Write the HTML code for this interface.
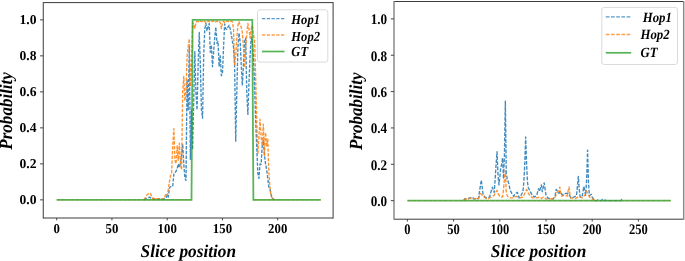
<!DOCTYPE html>
<html><head><meta charset="utf-8"><style>html,body{margin:0;padding:0;background:#fff;overflow:hidden}svg{display:block;will-change:transform}</style></head><body>
<svg width="685" height="261" viewBox="0 0 685 261">
<style>text{text-rendering:geometricPrecision}.tk{font-family:"Liberation Serif",serif;font-weight:bold;font-size:13.6px;fill:#000}.lg{font-family:"Liberation Serif",serif;font-weight:bold;font-style:italic;fill:#000}.al{font-family:"Liberation Serif",serif;font-weight:bold;font-style:italic;font-size:17.3px;fill:#000}</style>
<rect width="685" height="261" fill="#fff"/>
<g>
<polyline points="144.00,199.87 145.10,198.97 146.20,198.52 147.31,198.07 148.42,197.62 149.52,197.17 150.62,197.80 151.73,198.43 152.84,198.97 153.94,198.97 155.05,198.97 156.15,198.97 157.25,198.97 158.36,198.97 159.47,198.97 160.57,198.97 161.68,198.97 162.78,198.97 163.88,198.97 164.99,198.97 166.09,198.07 167.20,194.83 168.31,197.17 169.41,188.17 170.51,186.91 171.62,186.37 172.72,186.37 173.83,174.13 174.94,172.87 176.04,171.07 177.14,168.91 178.25,163.87 179.36,167.47 180.46,163.87 181.56,154.87 182.67,144.07 183.78,163.87 184.88,178.27 185.99,180.43 187.09,79.27 188.19,109.87 189.30,46.87 190.40,159.37 191.51,109.87 192.62,149.47 193.72,100.87 194.82,51.55 195.93,91.87 197.04,109.87 198.14,64.87 199.25,32.47 200.35,64.87 201.45,109.87 202.56,118.15 203.67,55.87 204.77,28.87 205.88,23.47 206.98,30.67 208.08,27.07 209.19,23.47 210.30,52.27 211.40,45.07 212.50,66.67 213.61,52.27 214.71,37.87 215.82,27.07 216.93,43.27 218.03,41.47 219.13,66.67 220.24,55.87 221.35,75.67 222.45,73.87 223.56,46.87 224.66,24.01 225.76,28.87 226.87,29.41 227.98,27.07 229.08,25.27 230.19,28.87 231.29,34.27 232.39,41.47 233.50,46.87 234.61,64.87 235.71,141.19 236.81,91.87 237.92,46.87 239.02,33.19 240.13,41.47 241.24,64.87 242.34,85.57 243.44,64.87 244.55,41.47 245.65,37.87 246.76,91.87 247.87,114.37 248.97,82.87 250.07,55.87 251.18,36.97 252.29,41.47 253.39,55.87 254.50,82.87 255.60,118.87 256.70,145.87 257.81,172.87 258.92,178.27 260.02,163.87 261.12,164.23 262.23,145.87 263.33,140.47 264.44,154.87 265.55,163.87 266.65,169.81 267.75,178.27 268.86,187.27 269.96,189.07 271.07,194.47 272.18,198.07 273.28,198.97 274.38,199.87" fill="none" stroke="#1f77b4" stroke-width="1.35" stroke-opacity="0.85" stroke-dasharray="3.3 1.45" stroke-linejoin="round"/>
<polyline points="144.00,199.87 145.10,198.07 146.20,196.27 147.31,194.47 148.42,193.84 149.52,193.21 150.62,193.57 151.73,197.17 152.84,198.43 153.94,198.48 155.05,198.54 156.15,198.59 157.25,198.65 158.36,198.70 159.47,198.75 160.57,198.81 161.68,198.86 162.78,198.92 163.88,198.97 164.99,196.27 166.09,193.57 167.20,195.37 168.31,189.07 169.41,181.87 170.51,175.75 171.62,172.87 172.72,145.87 173.83,128.77 174.94,160.27 176.04,163.87 177.14,145.87 178.25,160.27 179.36,143.17 180.46,163.87 181.56,169.81 182.67,91.87 183.78,76.39 184.88,100.87 185.99,91.87 187.09,55.87 188.19,46.87 189.30,38.77 190.40,86.47 191.51,64.87 192.62,22.57 193.72,25.27 194.82,28.33 195.93,22.57 197.04,21.31 198.14,21.67 199.25,22.39 200.35,21.13 201.45,21.67 202.56,21.31 203.67,22.03 204.77,21.13 205.88,22.57 206.98,21.13 208.08,21.67 209.19,21.13 210.30,21.67 211.40,21.13 212.50,21.67 213.61,21.13 214.71,22.39 215.82,21.67 216.93,21.13 218.03,21.67 219.13,21.13 220.24,22.57 221.35,28.51 222.45,22.57 223.56,21.13 224.66,22.57 225.76,21.67 226.87,21.13 227.98,21.67 229.08,21.13 230.19,21.67 231.29,21.13 232.39,21.67 233.50,28.87 234.61,65.59 235.71,55.87 236.81,37.87 237.92,25.27 239.02,21.67 240.13,25.27 241.24,27.07 242.34,32.47 243.44,46.87 244.55,67.57 245.65,46.87 246.76,34.27 247.87,23.47 248.97,28.87 250.07,37.87 251.18,28.87 252.29,25.27 253.39,34.27 254.50,39.67 255.60,73.87 256.70,118.87 257.81,153.61 258.92,136.87 260.02,119.23 261.12,136.87 262.23,145.87 263.33,124.27 264.44,155.41 265.55,132.55 266.65,145.87 267.75,139.21 268.86,172.87 269.96,187.27 271.07,196.27 272.18,198.07 273.28,198.97 274.38,199.87" fill="none" stroke="#ff7f0e" stroke-width="1.35" stroke-opacity="0.85" stroke-dasharray="3.3 1.45" stroke-linejoin="round"/>
<line x1="56.70" y1="199.87" x2="191.51" y2="199.87" stroke="#ff7f0e" stroke-width="1.3" stroke-opacity="0.45" stroke-dasharray="3.3 1.45"/>
<line x1="253.39" y1="199.87" x2="320.79" y2="199.87" stroke="#ff7f0e" stroke-width="1.3" stroke-opacity="0.45" stroke-dasharray="3.3 1.45"/>
<polyline points="56.70,199.87 57.80,199.87 58.91,199.87 60.02,199.87 61.12,199.87 62.23,199.87 63.33,199.87 64.44,199.87 65.54,199.87 66.65,199.87 67.75,199.87 68.86,199.87 69.96,199.87 71.06,199.87 72.17,199.87 73.28,199.87 74.38,199.87 75.48,199.87 76.59,199.87 77.70,199.87 78.80,199.87 79.91,199.87 81.01,199.87 82.12,199.87 83.22,199.87 84.33,199.87 85.43,199.87 86.53,199.87 87.64,199.87 88.75,199.87 89.85,199.87 90.96,199.87 92.06,199.87 93.16,199.87 94.27,199.87 95.38,199.87 96.48,199.87 97.59,199.87 98.69,199.87 99.80,199.87 100.90,199.87 102.00,199.87 103.11,199.87 104.22,199.87 105.32,199.87 106.43,199.87 107.53,199.87 108.64,199.87 109.74,199.87 110.84,199.87 111.95,199.87 113.06,199.87 114.16,199.87 115.27,199.87 116.37,199.87 117.47,199.87 118.58,199.87 119.69,199.87 120.79,199.87 121.89,199.87 123.00,199.87 124.11,199.87 125.21,199.87 126.31,199.87 127.42,199.87 128.53,199.87 129.63,199.87 130.74,199.87 131.84,199.87 132.94,199.87 134.05,199.87 135.16,199.87 136.26,199.87 137.37,199.87 138.47,199.87 139.57,199.87 140.68,199.87 141.78,199.87 142.89,199.87 144.00,199.87 145.10,199.87 146.20,199.87 147.31,199.87 148.42,199.87 149.52,199.87 150.62,199.87 151.73,199.87 152.84,199.87 153.94,199.87 155.05,199.87 156.15,199.87 157.25,199.87 158.36,199.87 159.47,199.87 160.57,199.87 161.68,199.87 162.78,199.87 163.88,199.87 164.99,199.87 166.09,199.87 167.20,199.87 168.31,199.87 169.41,199.87 170.51,199.87 171.62,199.87 172.72,199.87 173.83,199.87 174.94,199.87 176.04,199.87 177.14,199.87 178.25,199.87 179.36,199.87 180.46,199.87 181.56,199.87 182.67,199.87 183.78,199.87 184.88,199.87 185.99,199.87 187.09,199.87 188.19,199.87 189.30,199.87 190.40,199.87 191.51,199.87 192.62,19.87 193.72,19.87 194.82,19.87 195.93,19.87 197.04,19.87 198.14,19.87 199.25,19.87 200.35,19.87 201.45,19.87 202.56,19.87 203.67,19.87 204.77,19.87 205.88,19.87 206.98,19.87 208.08,19.87 209.19,19.87 210.30,19.87 211.40,19.87 212.50,19.87 213.61,19.87 214.71,19.87 215.82,19.87 216.93,19.87 218.03,19.87 219.13,19.87 220.24,19.87 221.35,19.87 222.45,19.87 223.56,19.87 224.66,19.87 225.76,19.87 226.87,19.87 227.98,19.87 229.08,19.87 230.19,19.87 231.29,19.87 232.39,19.87 233.50,19.87 234.61,19.87 235.71,19.87 236.81,19.87 237.92,19.87 239.02,19.87 240.13,19.87 241.24,19.87 242.34,19.87 243.44,19.87 244.55,19.87 245.65,19.87 246.76,19.87 247.87,19.87 248.97,19.87 250.07,19.87 251.18,19.87 252.29,19.87 253.39,199.87 254.50,199.87 255.60,199.87 256.70,199.87 257.81,199.87 258.92,199.87 260.02,199.87 261.12,199.87 262.23,199.87 263.33,199.87 264.44,199.87 265.55,199.87 266.65,199.87 267.75,199.87 268.86,199.87 269.96,199.87 271.07,199.87 272.18,199.87 273.28,199.87 274.38,199.87 275.49,199.87 276.60,199.87 277.70,199.87 278.81,199.87 279.91,199.87 281.01,199.87 282.12,199.87 283.23,199.87 284.33,199.87 285.44,199.87 286.54,199.87 287.64,199.87 288.75,199.87 289.86,199.87 290.96,199.87 292.06,199.87 293.17,199.87 294.27,199.87 295.38,199.87 296.49,199.87 297.59,199.87 298.69,199.87 299.80,199.87 300.90,199.87 302.01,199.87 303.12,199.87 304.22,199.87 305.32,199.87 306.43,199.87 307.54,199.87 308.64,199.87 309.75,199.87 310.85,199.87 311.95,199.87 313.06,199.87 314.16,199.87 315.27,199.87 316.38,199.87 317.48,199.87 318.58,199.87 319.69,199.87 320.79,199.87" fill="none" stroke="#2ca02c" stroke-width="1.8" stroke-opacity="0.78" stroke-linejoin="miter"/>

<line x1="43.25" y1="2.6" x2="333.1" y2="2.6" stroke="#3a3a3a" stroke-width="1.0"/>
<line x1="43.25" y1="218.0" x2="333.1" y2="218.0" stroke="#3a3a3a" stroke-width="1.0"/>
<line x1="43.25" y1="2.1" x2="43.25" y2="218.5" stroke="#3a3a3a" stroke-width="1.0"/>
<line x1="333.1" y1="2.1" x2="333.1" y2="218.5" stroke="#3a3a3a" stroke-width="1.0"/>
<line x1="40.05" y1="199.87" x2="43.25" y2="199.87" stroke="#444" stroke-width="1"/>
<text transform="translate(36.45,203.57) scale(1.0,1.0)" text-anchor="end" class="tk">0.0</text>
<line x1="40.05" y1="163.87" x2="43.25" y2="163.87" stroke="#444" stroke-width="1"/>
<text transform="translate(36.45,167.57) scale(1.0,1.0)" text-anchor="end" class="tk">0.2</text>
<line x1="40.05" y1="127.87" x2="43.25" y2="127.87" stroke="#444" stroke-width="1"/>
<text transform="translate(36.45,131.57) scale(1.0,1.0)" text-anchor="end" class="tk">0.4</text>
<line x1="40.05" y1="91.87" x2="43.25" y2="91.87" stroke="#444" stroke-width="1"/>
<text transform="translate(36.45,95.57) scale(1.0,1.0)" text-anchor="end" class="tk">0.6</text>
<line x1="40.05" y1="55.87" x2="43.25" y2="55.87" stroke="#444" stroke-width="1"/>
<text transform="translate(36.45,59.57) scale(1.0,1.0)" text-anchor="end" class="tk">0.8</text>
<line x1="40.05" y1="19.87" x2="43.25" y2="19.87" stroke="#444" stroke-width="1"/>
<text transform="translate(36.45,23.57) scale(1.0,1.0)" text-anchor="end" class="tk">1.0</text>
<line x1="56.70" y1="218.0" x2="56.70" y2="220.3" stroke="#444" stroke-width="1"/>
<text transform="translate(56.70,233.40) scale(0.94,1.0)" text-anchor="middle" class="tk">0</text>
<line x1="111.95" y1="218.0" x2="111.95" y2="220.3" stroke="#444" stroke-width="1"/>
<text transform="translate(111.95,233.40) scale(0.94,1.0)" text-anchor="middle" class="tk">50</text>
<line x1="167.20" y1="218.0" x2="167.20" y2="220.3" stroke="#444" stroke-width="1"/>
<text transform="translate(167.20,233.40) scale(0.94,1.0)" text-anchor="middle" class="tk">100</text>
<line x1="222.45" y1="218.0" x2="222.45" y2="220.3" stroke="#444" stroke-width="1"/>
<text transform="translate(222.45,233.40) scale(0.94,1.0)" text-anchor="middle" class="tk">150</text>
<line x1="277.70" y1="218.0" x2="277.70" y2="220.3" stroke="#444" stroke-width="1"/>
<text transform="translate(277.70,233.40) scale(0.94,1.0)" text-anchor="middle" class="tk">200</text>

<rect x="257.5" y="9.8" width="70.30000000000001" height="52.3" rx="2.5" ry="2.5" fill="#fff" fill-opacity="0.8" stroke="#d6d6d6" stroke-width="0.9"/>
<line x1="262" y1="18.6" x2="284.5" y2="18.6" stroke="#1f77b4" stroke-width="1.3" stroke-opacity="0.75" stroke-dasharray="3.3 1.45"/>
<text transform="translate(291.3,24.2) scale(1,1.1)" class="lg" style="font-size:12.6px">Hop1</text>
<line x1="262" y1="35.0" x2="284.5" y2="35.0" stroke="#ff7f0e" stroke-width="1.3" stroke-opacity="0.75" stroke-dasharray="3.3 1.45"/>
<text transform="translate(291.3,40.6) scale(1,1.1)" class="lg" style="font-size:12.6px">Hop2</text>
<line x1="262" y1="51.5" x2="284.5" y2="51.5" stroke="#2ca02c" stroke-width="1.7" stroke-opacity="0.8"/>
<text transform="translate(291.3,55.6) scale(1,1.1)" class="lg" style="font-size:12.6px">GT</text>

<text transform="translate(188.3,257.4) scale(1,1.04)" text-anchor="middle" class="al">Slice position</text>
<text transform="translate(12.0,110.9) rotate(-90) scale(0.985,1.07)" text-anchor="middle" class="al">Probability</text>
</g>
<g>
<polyline points="463.76,200.67 464.69,198.85 465.61,198.76 466.54,198.67 467.46,198.58 468.38,198.49 469.31,198.12 470.23,197.76 471.16,197.40 472.08,197.03 473.00,197.94 473.93,198.85 474.85,198.78 475.78,198.71 476.70,198.63 477.62,198.56 478.55,198.49 479.47,191.58 480.40,185.76 481.32,179.94 482.24,187.94 483.17,194.85 484.09,195.94 485.02,197.03 485.94,197.49 486.86,197.94 487.79,197.64 488.71,197.34 489.64,197.03 490.56,193.40 491.48,190.31 492.41,187.22 493.33,189.85 494.26,192.49 495.18,178.40 496.10,164.31 497.03,151.77 497.95,173.40 498.88,184.85 499.80,177.22 500.72,167.95 501.65,164.31 502.57,157.95 503.50,178.85 504.42,155.22 505.34,101.23 506.27,173.40 507.19,178.85 508.12,181.58 509.04,184.31 509.96,189.76 510.89,191.58 511.81,193.40 512.74,194.85 513.66,196.31 514.58,194.85 515.51,193.40 516.43,192.85 517.36,192.31 518.28,195.22 519.20,197.94 520.13,196.58 521.05,195.22 521.98,193.49 522.90,191.76 523.82,182.49 524.75,164.31 525.67,137.04 526.60,164.31 527.52,182.49 528.44,187.94 529.37,189.76 530.29,191.58 531.22,193.40 532.14,195.22 533.06,195.82 533.99,196.43 534.91,197.03 535.84,196.12 536.76,195.22 537.68,191.58 538.61,188.67 539.53,191.58 540.46,188.22 541.38,184.85 542.30,191.76 543.23,187.31 544.15,182.85 545.08,189.03 546.00,195.22 546.92,196.58 547.85,197.94 548.77,198.25 549.70,198.55 550.62,198.85 551.54,198.85 552.47,198.85 553.39,198.85 554.32,197.03 555.24,195.22 556.16,189.40 557.09,190.73 558.01,192.06 558.94,193.40 559.86,191.58 560.78,192.79 561.71,194.00 562.63,195.22 563.56,194.61 564.48,194.00 565.40,193.40 566.33,193.40 567.25,193.40 568.18,193.40 569.10,194.91 570.02,196.43 570.95,197.94 571.87,197.64 572.80,197.34 573.72,197.03 574.64,196.61 575.57,196.19 576.49,195.76 577.42,186.13 578.34,176.49 579.26,189.76 580.19,197.03 581.11,197.03 582.04,197.03 582.96,191.76 583.88,186.49 584.81,190.85 585.73,195.22 586.66,178.85 587.58,150.13 588.50,182.49 589.43,195.76 590.35,195.03 591.28,194.31 592.20,197.03 593.12,198.40 594.05,199.76 594.97,200.67 595.90,200.67 596.82,200.67 597.74,199.94 598.67,200.67 599.59,200.67 600.52,200.67 601.44,200.67 602.36,199.40 603.29,200.67 604.21,200.67 605.14,200.12 606.06,200.67 606.98,200.67 607.91,200.67 608.83,200.67 609.76,200.67 610.68,200.67 611.60,200.67 612.53,200.67 613.45,200.67 614.38,200.67 615.30,200.67 616.22,200.67 617.15,200.67 618.07,200.67 619.00,200.67 619.92,200.67 620.84,200.67 621.77,199.40 622.69,200.67" fill="none" stroke="#1f77b4" stroke-width="1.35" stroke-opacity="0.85" stroke-dasharray="3.7 1.5" stroke-linejoin="round"/>
<polyline points="463.76,200.67 464.69,199.22 465.61,199.12 466.54,199.03 467.46,198.94 468.38,198.85 469.31,198.40 470.23,197.94 471.16,198.40 472.08,198.85 473.00,198.80 473.93,198.75 474.85,198.70 475.78,198.64 476.70,198.59 477.62,198.54 478.55,198.49 479.47,195.94 480.40,193.40 481.32,194.31 482.24,195.22 483.17,196.31 484.09,197.03 485.02,197.76 485.94,198.49 486.86,198.49 487.79,198.49 488.71,198.49 489.64,198.00 490.56,197.52 491.48,197.03 492.41,196.43 493.33,195.82 494.26,195.22 495.18,193.40 496.10,191.58 497.03,190.31 497.95,193.40 498.88,194.85 499.80,196.31 500.72,196.55 501.65,196.79 502.57,197.03 503.50,189.76 504.42,178.85 505.34,170.31 506.27,193.40 507.19,195.22 508.12,197.03 509.04,197.49 509.96,197.94 510.89,197.94 511.81,197.94 512.74,197.94 513.66,197.53 514.58,197.12 515.51,196.72 516.43,196.31 517.36,196.85 518.28,197.40 519.20,197.94 520.13,197.72 521.05,197.49 521.98,197.26 522.90,197.03 523.82,195.22 524.75,193.40 525.67,191.40 526.60,189.40 527.52,191.40 528.44,193.40 529.37,194.85 530.29,196.31 531.22,196.85 532.14,197.40 533.06,197.94 533.99,197.94 534.91,197.94 535.84,197.94 536.76,197.94 537.68,197.64 538.61,197.34 539.53,197.03 540.46,197.76 541.38,198.49 542.30,197.76 543.23,197.03 544.15,197.64 545.08,198.25 546.00,198.85 546.92,198.85 547.85,198.85 548.77,198.85 549.70,198.85 550.62,198.85 551.54,198.85 552.47,198.85 553.39,198.25 554.32,197.64 555.24,197.03 556.16,194.76 557.09,192.49 558.01,191.58 558.94,190.67 559.86,187.03 560.78,193.40 561.71,196.31 562.63,195.76 563.56,195.22 564.48,195.22 565.40,195.52 566.33,195.82 567.25,196.12 568.18,190.67 569.10,187.03 570.02,195.22 570.95,197.94 571.87,198.05 572.80,198.16 573.72,198.27 574.64,198.38 575.57,198.49 576.49,197.94 577.42,197.40 578.34,196.85 579.26,196.31 580.19,196.85 581.11,197.40 582.04,197.94 582.96,197.03 583.88,196.12 584.81,195.22 585.73,193.13 586.66,191.03 587.58,193.40 588.50,195.22 589.43,197.03 590.35,197.64 591.28,198.25 592.20,198.85 593.12,199.40 594.05,199.94 594.97,200.67" fill="none" stroke="#ff7f0e" stroke-width="1.35" stroke-opacity="0.85" stroke-dasharray="3.7 1.5" stroke-linejoin="round"/>
<line x1="407.40" y1="200.67" x2="670.74" y2="200.67" stroke="#ff7f0e" stroke-width="1.3" stroke-opacity="0.45" stroke-dasharray="3.7 1.5"/>
<polyline points="407.40,200.67 408.32,200.67 409.25,200.67 410.17,200.67 411.10,200.67 412.02,200.67 412.94,200.67 413.87,200.67 414.79,200.67 415.72,200.67 416.64,200.67 417.56,200.67 418.49,200.67 419.41,200.67 420.34,200.67 421.26,200.67 422.18,200.67 423.11,200.67 424.03,200.67 424.96,200.67 425.88,200.67 426.80,200.67 427.73,200.67 428.65,200.67 429.58,200.67 430.50,200.67 431.42,200.67 432.35,200.67 433.27,200.67 434.20,200.67 435.12,200.67 436.04,200.67 436.97,200.67 437.89,200.67 438.82,200.67 439.74,200.67 440.66,200.67 441.59,200.67 442.51,200.67 443.44,200.67 444.36,200.67 445.28,200.67 446.21,200.67 447.13,200.67 448.06,200.67 448.98,200.67 449.90,200.67 450.83,200.67 451.75,200.67 452.68,200.67 453.60,200.67 454.52,200.67 455.45,200.67 456.37,200.67 457.30,200.67 458.22,200.67 459.14,200.67 460.07,200.67 460.99,200.67 461.92,200.67 462.84,200.67 463.76,200.67 464.69,200.67 465.61,200.67 466.54,200.67 467.46,200.67 468.38,200.67 469.31,200.67 470.23,200.67 471.16,200.67 472.08,200.67 473.00,200.67 473.93,200.67 474.85,200.67 475.78,200.67 476.70,200.67 477.62,200.67 478.55,200.67 479.47,200.67 480.40,200.67 481.32,200.67 482.24,200.67 483.17,200.67 484.09,200.67 485.02,200.67 485.94,200.67 486.86,200.67 487.79,200.67 488.71,200.67 489.64,200.67 490.56,200.67 491.48,200.67 492.41,200.67 493.33,200.67 494.26,200.67 495.18,200.67 496.10,200.67 497.03,200.67 497.95,200.67 498.88,200.67 499.80,200.67 500.72,200.67 501.65,200.67 502.57,200.67 503.50,200.67 504.42,200.67 505.34,200.67 506.27,200.67 507.19,200.67 508.12,200.67 509.04,200.67 509.96,200.67 510.89,200.67 511.81,200.67 512.74,200.67 513.66,200.67 514.58,200.67 515.51,200.67 516.43,200.67 517.36,200.67 518.28,200.67 519.20,200.67 520.13,200.67 521.05,200.67 521.98,200.67 522.90,200.67 523.82,200.67 524.75,200.67 525.67,200.67 526.60,200.67 527.52,200.67 528.44,200.67 529.37,200.67 530.29,200.67 531.22,200.67 532.14,200.67 533.06,200.67 533.99,200.67 534.91,200.67 535.84,200.67 536.76,200.67 537.68,200.67 538.61,200.67 539.53,200.67 540.46,200.67 541.38,200.67 542.30,200.67 543.23,200.67 544.15,200.67 545.08,200.67 546.00,200.67 546.92,200.67 547.85,200.67 548.77,200.67 549.70,200.67 550.62,200.67 551.54,200.67 552.47,200.67 553.39,200.67 554.32,200.67 555.24,200.67 556.16,200.67 557.09,200.67 558.01,200.67 558.94,200.67 559.86,200.67 560.78,200.67 561.71,200.67 562.63,200.67 563.56,200.67 564.48,200.67 565.40,200.67 566.33,200.67 567.25,200.67 568.18,200.67 569.10,200.67 570.02,200.67 570.95,200.67 571.87,200.67 572.80,200.67 573.72,200.67 574.64,200.67 575.57,200.67 576.49,200.67 577.42,200.67 578.34,200.67 579.26,200.67 580.19,200.67 581.11,200.67 582.04,200.67 582.96,200.67 583.88,200.67 584.81,200.67 585.73,200.67 586.66,200.67 587.58,200.67 588.50,200.67 589.43,200.67 590.35,200.67 591.28,200.67 592.20,200.67 593.12,200.67 594.05,200.67 594.97,200.67 595.90,200.67 596.82,200.67 597.74,200.67 598.67,200.67 599.59,200.67 600.52,200.67 601.44,200.67 602.36,200.67 603.29,200.67 604.21,200.67 605.14,200.67 606.06,200.67 606.98,200.67 607.91,200.67 608.83,200.67 609.76,200.67 610.68,200.67 611.60,200.67 612.53,200.67 613.45,200.67 614.38,200.67 615.30,200.67 616.22,200.67 617.15,200.67 618.07,200.67 619.00,200.67 619.92,200.67 620.84,200.67 621.77,200.67 622.69,200.67 623.62,200.67 624.54,200.67 625.46,200.67 626.39,200.67 627.31,200.67 628.24,200.67 629.16,200.67 630.08,200.67 631.01,200.67 631.93,200.67 632.86,200.67 633.78,200.67 634.70,200.67 635.63,200.67 636.55,200.67 637.48,200.67 638.40,200.67 639.32,200.67 640.25,200.67 641.17,200.67 642.10,200.67 643.02,200.67 643.94,200.67 644.87,200.67 645.79,200.67 646.72,200.67 647.64,200.67 648.56,200.67 649.49,200.67 650.41,200.67 651.34,200.67 652.26,200.67 653.18,200.67 654.11,200.67 655.03,200.67 655.96,200.67 656.88,200.67 657.80,200.67 658.73,200.67 659.65,200.67 660.58,200.67 661.50,200.67 662.42,200.67 663.35,200.67 664.27,200.67 665.20,200.67 666.12,200.67 667.04,200.67 667.97,200.67 668.89,200.67 669.82,200.67 670.74,200.67" fill="none" stroke="#2ca02c" stroke-width="1.8" stroke-opacity="0.78" stroke-linejoin="miter"/>

<line x1="394.0" y1="1.5" x2="683.7" y2="1.5" stroke="#3a3a3a" stroke-width="1.0"/>
<line x1="394.0" y1="219.2" x2="683.7" y2="219.2" stroke="#3a3a3a" stroke-width="1.0"/>
<line x1="394.0" y1="1.0" x2="394.0" y2="219.7" stroke="#8a8a8a" stroke-width="1.5"/>
<line x1="683.7" y1="1.0" x2="683.7" y2="219.7" stroke="#8a8a8a" stroke-width="1.5"/>
<line x1="390.8" y1="200.67" x2="394.0" y2="200.67" stroke="#444" stroke-width="1"/>
<text transform="translate(387.20,205.97) scale(0.97,1.08)" text-anchor="end" class="tk">0.0</text>
<line x1="390.8" y1="164.31" x2="394.0" y2="164.31" stroke="#444" stroke-width="1"/>
<text transform="translate(387.20,169.61) scale(0.97,1.08)" text-anchor="end" class="tk">0.2</text>
<line x1="390.8" y1="127.95" x2="394.0" y2="127.95" stroke="#444" stroke-width="1"/>
<text transform="translate(387.20,133.25) scale(0.97,1.08)" text-anchor="end" class="tk">0.4</text>
<line x1="390.8" y1="91.59" x2="394.0" y2="91.59" stroke="#444" stroke-width="1"/>
<text transform="translate(387.20,96.89) scale(0.97,1.08)" text-anchor="end" class="tk">0.6</text>
<line x1="390.8" y1="55.23" x2="394.0" y2="55.23" stroke="#444" stroke-width="1"/>
<text transform="translate(387.20,60.53) scale(0.97,1.08)" text-anchor="end" class="tk">0.8</text>
<line x1="390.8" y1="18.87" x2="394.0" y2="18.87" stroke="#444" stroke-width="1"/>
<text transform="translate(387.20,24.17) scale(0.97,1.08)" text-anchor="end" class="tk">1.0</text>
<line x1="407.40" y1="219.2" x2="407.40" y2="221.5" stroke="#444" stroke-width="1"/>
<text transform="translate(407.40,233.50) scale(0.92,1.08)" text-anchor="middle" class="tk">0</text>
<line x1="453.60" y1="219.2" x2="453.60" y2="221.5" stroke="#444" stroke-width="1"/>
<text transform="translate(453.60,233.50) scale(0.92,1.08)" text-anchor="middle" class="tk">50</text>
<line x1="499.80" y1="219.2" x2="499.80" y2="221.5" stroke="#444" stroke-width="1"/>
<text transform="translate(499.80,233.50) scale(0.92,1.08)" text-anchor="middle" class="tk">100</text>
<line x1="546.00" y1="219.2" x2="546.00" y2="221.5" stroke="#444" stroke-width="1"/>
<text transform="translate(546.00,233.50) scale(0.92,1.08)" text-anchor="middle" class="tk">150</text>
<line x1="592.20" y1="219.2" x2="592.20" y2="221.5" stroke="#444" stroke-width="1"/>
<text transform="translate(592.20,233.50) scale(0.92,1.08)" text-anchor="middle" class="tk">200</text>
<line x1="638.40" y1="219.2" x2="638.40" y2="221.5" stroke="#444" stroke-width="1"/>
<text transform="translate(638.40,233.50) scale(0.92,1.08)" text-anchor="middle" class="tk">250</text>

<rect x="601.8" y="7.4" width="75.70000000000005" height="57.1" rx="2.5" ry="2.5" fill="#fff" fill-opacity="0.8" stroke="#d6d6d6" stroke-width="0.9"/>
<line x1="605.8" y1="16.9" x2="631.2" y2="16.9" stroke="#1f77b4" stroke-width="1.3" stroke-opacity="0.75" stroke-dasharray="3.7 1.5"/>
<text transform="translate(642.7,22.0) scale(1,1.1)" class="lg" style="font-size:12.8px">Hop1</text>
<line x1="605.8" y1="34.5" x2="631.2" y2="34.5" stroke="#ff7f0e" stroke-width="1.3" stroke-opacity="0.75" stroke-dasharray="3.7 1.5"/>
<text transform="translate(640.5,39.0) scale(1,1.1)" class="lg" style="font-size:12.8px">Hop2</text>
<line x1="605.8" y1="52.8" x2="631.2" y2="52.8" stroke="#2ca02c" stroke-width="1.7" stroke-opacity="0.8"/>
<text transform="translate(640.5,56.6) scale(1,1.1)" class="lg" style="font-size:12.8px">GT</text>

<text transform="translate(538.5,257.4) scale(1,1.04)" text-anchor="middle" class="al">Slice position</text>
<text transform="translate(362.4,111.2) rotate(-90) scale(0.985,1.07)" text-anchor="middle" class="al">Probability</text>
</g>
</svg>
</body></html>
